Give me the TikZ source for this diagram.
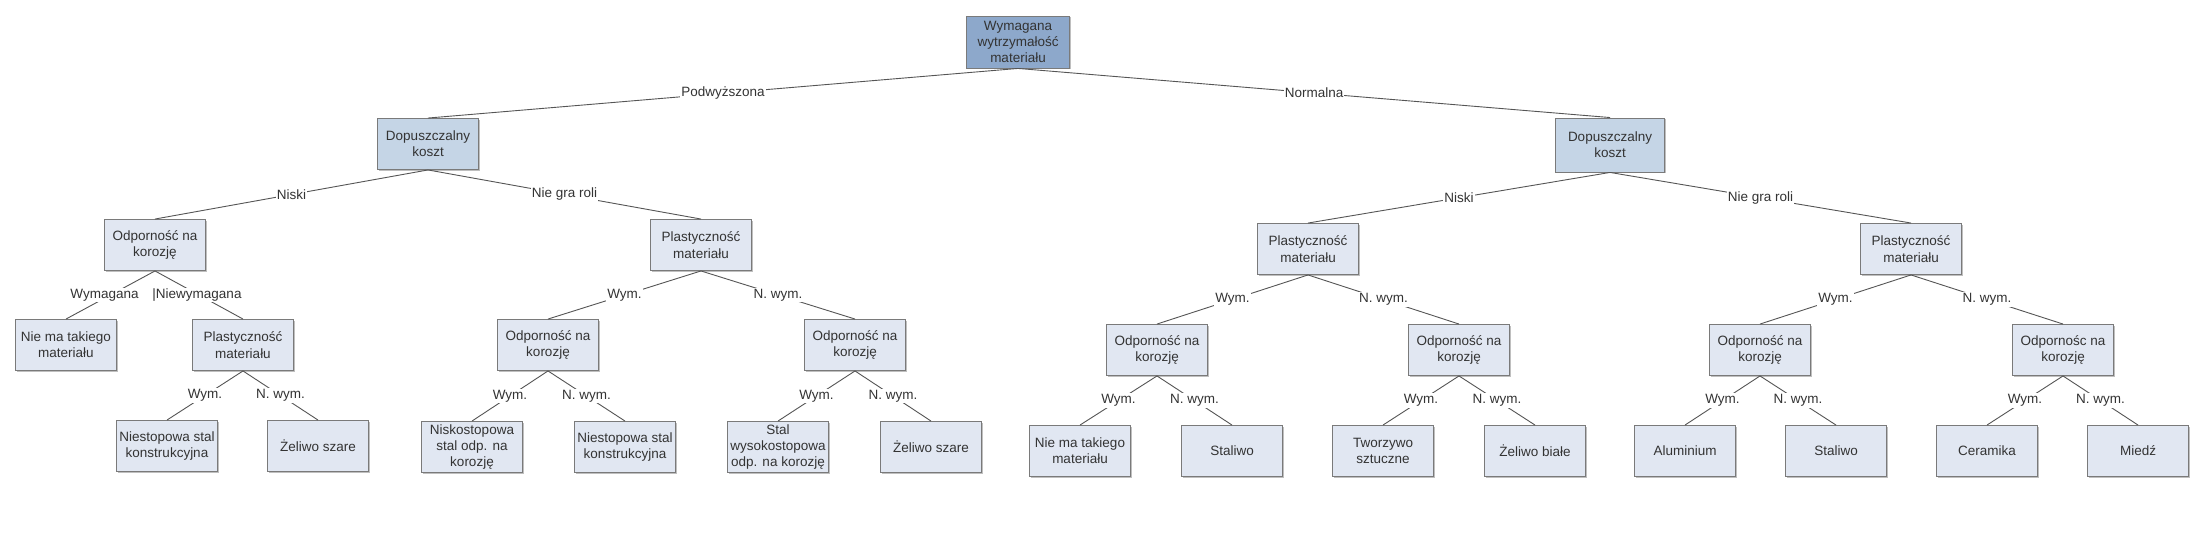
\documentclass[tikz,border=0pt]{standalone}
\usepackage{fontspec}
\setmainfont{Liberation Sans}
\usetikzlibrary{shadows}
\definecolor{rootfill}{HTML}{8DA8CB}
\definecolor{costfill}{HTML}{C5D5E6}
\definecolor{boxfill}{HTML}{E1E7F2}
\definecolor{boxline}{HTML}{7A7A7A}
\definecolor{edgecol}{HTML}{555555}
\definecolor{txt}{HTML}{333333}
\tikzset{
  box/.style={draw=boxline, line width=0.9pt, fill=boxfill, text=txt,
    minimum width=101pt, minimum height=51pt, inner xsep=2pt, inner ysep=0pt, align=center,
    font=\fontsize{13.5}{16.2}\selectfont,
    drop shadow={shadow xshift=1.5pt, shadow yshift=-1.5pt, fill=black, opacity=0.25}},
  rootbox/.style={box, fill=rootfill, minimum width=103pt, minimum height=52pt},
  costbox/.style={box, fill=costfill},
  edge/.style={draw=edgecol, line width=0.9pt},
  lbl/.style={fill=white, text=txt, inner sep=1pt, font=\fontsize{13.5}{16}\selectfont}
}
\begin{document}
\begin{tikzpicture}[x=1pt, y=-1pt]
\useasboundingbox[fill=white] (0,0) rectangle (2197,553);
% level 0
\node[rootbox] (root) at (1018,42) {Wymagana\\wytrzymałość\\materiału};
% level 1
\node[costbox] (dl) at (428,144) {Dopuszczalny\\koszt};
\node[costbox, minimum width=109pt, minimum height=54pt] (dr) at (1610,145) {Dopuszczalny\\koszt};
% left subtree
\node[box] (A) at (155,245) {Odporność na\\korozję};
\node[box] (B) at (701,245) {Plastyczność\\materiału};
\node[box] (A1) at (66,345) {Nie ma takiego\\materiału};
\node[box] (C) at (243,345) {Plastyczność\\materiału};
\node[box] (C1) at (167,446) {Niestopowa stal\\konstrukcyjna};
\node[box] (C2) at (318,446) {Żeliwo szare};
\node[box] (D) at (548,345) {Odporność na\\korozję};
\node[box] (E) at (855,345) {Odporność na\\korozję};
\node[box] (D1) at (472,447) {Niskostopowa\\stal odp. na\\korozję};
\node[box] (D2) at (625,447) {Niestopowa stal\\konstrukcyjna};
\node[box] (E1) at (778,447) {Stal\\wysokostopowa\\odp. na korozję};
\node[box] (E2) at (931,447) {Żeliwo szare};
% right subtree
\node[box] (F) at (1308,249) {Plastyczność\\materiału};
\node[box] (G) at (1911,249) {Plastyczność\\materiału};
\node[box] (H) at (1157,350) {Odporność na\\korozję};
\node[box] (I) at (1459,350) {Odporność na\\korozję};
\node[box] (J) at (1760,350) {Odporność na\\korozję};
\node[box] (K) at (2063,350) {Odpornośc na\\korozję};
\node[box] (H1) at (1080,451) {Nie ma takiego\\materiału};
\node[box] (H2) at (1232,451) {Staliwo};
\node[box] (I1) at (1383,451) {Tworzywo\\sztuczne};
\node[box] (I2) at (1535,451) {Żeliwo białe};
\node[box] (J1) at (1685,451) {Aluminium};
\node[box] (J2) at (1836,451) {Staliwo};
\node[box] (K1) at (1987,451) {Ceramika};
\node[box] (K2) at (2138,451) {Miedź};
% edges
\path[edge] (root.south) -- node[lbl] {Podwyższona} (dl.north);
\path[edge] (root.south) -- node[lbl] {Normalna} (dr.north);
\path[edge] (dl.south) -- node[lbl] {Niski} (A.north);
\path[edge] (dl.south) -- node[lbl] {Nie gra roli} (B.north);
\path[edge] (A.south) -- node[lbl, xshift=-6pt] {Wymagana} (A1.north);
\path[edge] (A.south) -- node[lbl, xshift=-2pt] {|Niewymagana} (C.north);
\path[edge] (C.south) -- node[lbl] {Wym.} (C1.north);
\path[edge] (C.south) -- node[lbl] {N. wym.} (C2.north);
\path[edge] (B.south) -- node[lbl] {Wym.} (D.north);
\path[edge] (B.south) -- node[lbl] {N. wym.} (E.north);
\path[edge] (D.south) -- node[lbl] {Wym.} (D1.north);
\path[edge] (D.south) -- node[lbl] {N. wym.} (D2.north);
\path[edge] (E.south) -- node[lbl] {Wym.} (E1.north);
\path[edge] (E.south) -- node[lbl] {N. wym.} (E2.north);
\path[edge] (dr.south) -- node[lbl] {Niski} (F.north);
\path[edge] (dr.south) -- node[lbl] {Nie gra roli} (G.north);
\path[edge] (F.south) -- node[lbl] {Wym.} (H.north);
\path[edge] (F.south) -- node[lbl] {N. wym.} (I.north);
\path[edge] (G.south) -- node[lbl] {Wym.} (J.north);
\path[edge] (G.south) -- node[lbl] {N. wym.} (K.north);
\path[edge] (H.south) -- node[lbl] {Wym.} (H1.north);
\path[edge] (H.south) -- node[lbl] {N. wym.} (H2.north);
\path[edge] (I.south) -- node[lbl] {Wym.} (I1.north);
\path[edge] (I.south) -- node[lbl] {N. wym.} (I2.north);
\path[edge] (J.south) -- node[lbl] {Wym.} (J1.north);
\path[edge] (J.south) -- node[lbl] {N. wym.} (J2.north);
\path[edge] (K.south) -- node[lbl] {Wym.} (K1.north);
\path[edge] (K.south) -- node[lbl] {N. wym.} (K2.north);
\end{tikzpicture}
\end{document}
